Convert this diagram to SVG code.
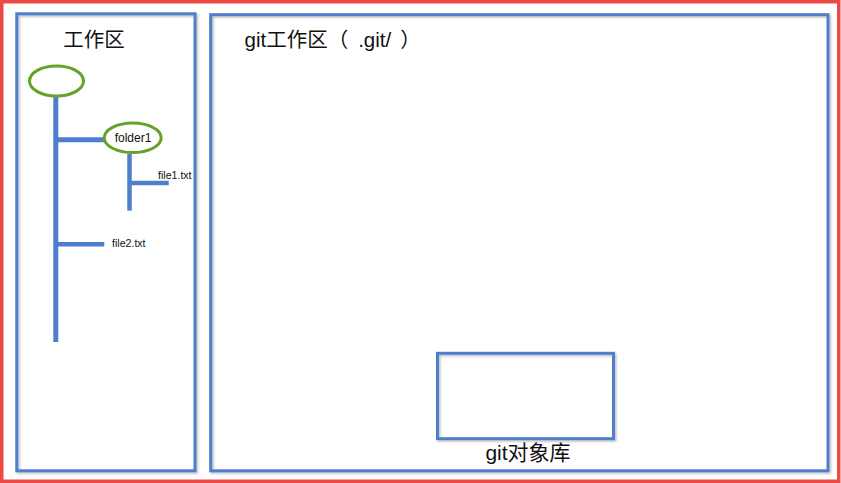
<svg xmlns="http://www.w3.org/2000/svg" width="841" height="483" viewBox="0 0 841 483">
  <defs>
    <filter id="shadow" x="-5%" y="-5%" width="110%" height="110%">
      <feDropShadow dx="1.5" dy="1.5" stdDeviation="1" flood-color="#808080" flood-opacity="0.5"/>
    </filter>
  </defs>
  <style>
    .frame { fill: none; stroke: #4F7ECD; stroke-width: 3; }
    .outer { fill: #FFFFFF; stroke: #EC4A44; stroke-width: 3.5; }
    .node { fill: #FFFFFF; stroke: #66A22A; stroke-width: 3; }
    .tree { stroke: #4F7ECD; stroke-linecap: butt; }
    .title { font-family: "Liberation Sans", "Noto Sans CJK SC", sans-serif; font-size: 20.5px; fill: #111111; }
    .small { font-family: "Liberation Sans", sans-serif; fill: #111111; }
  </style>

  <rect class="outer" x="1.75" y="1.75" width="837" height="479.5"/>

  <g id="workspace">
    <rect class="frame" x="16.8" y="13.8" width="178.2" height="457" filter="url(#shadow)"/>
    <text class="title" x="94" y="47" text-anchor="middle">工作区</text>
  </g>

  <g id="git-dir">
    <rect class="frame" x="210.7" y="14.7" width="617.3" height="456.1" filter="url(#shadow)"/>
    <text class="title" x="244.5" y="47">git工作区（<tspan dx="10">.git/</tspan><tspan dx="9">）</tspan></text>
  </g>

  <g id="object-store">
    <rect class="frame" x="437.5" y="353.3" width="176" height="85.4" filter="url(#shadow)"/>
    <text class="title" x="528" y="460" text-anchor="middle" style="font-size:21px">git对象库</text>
  </g>

  <g id="connectors">
    <line class="tree" x1="55.8" y1="96" x2="55.8" y2="342" stroke-width="5"/>
    <line class="tree" x1="55.8" y1="139.8" x2="104" y2="139.8" stroke-width="5"/>
    <line class="tree" x1="129.5" y1="154" x2="129.5" y2="210.7" stroke-width="4.5"/>
    <line class="tree" x1="129.5" y1="183" x2="168.7" y2="183" stroke-width="4.5"/>
    <line class="tree" x1="55.8" y1="244.3" x2="104.3" y2="244.3" stroke-width="4.5"/>
  </g>

  <g id="root">
    <ellipse class="node" cx="56.5" cy="81" rx="27" ry="15"/>
  </g>

  <g id="folder1">
    <ellipse class="node" cx="132.7" cy="137.8" rx="28.5" ry="14.8"/>
    <text class="small" x="133" y="142" text-anchor="middle" style="font-size:12px">folder1</text>
  </g>

  <g id="file1">
    <text class="small" x="158" y="178.5" style="font-size:10.6px">file1.txt</text>
  </g>

  <g id="file2">
    <text class="small" x="112" y="246.5" style="font-size:10.6px">file2.txt</text>
  </g>
</svg>
